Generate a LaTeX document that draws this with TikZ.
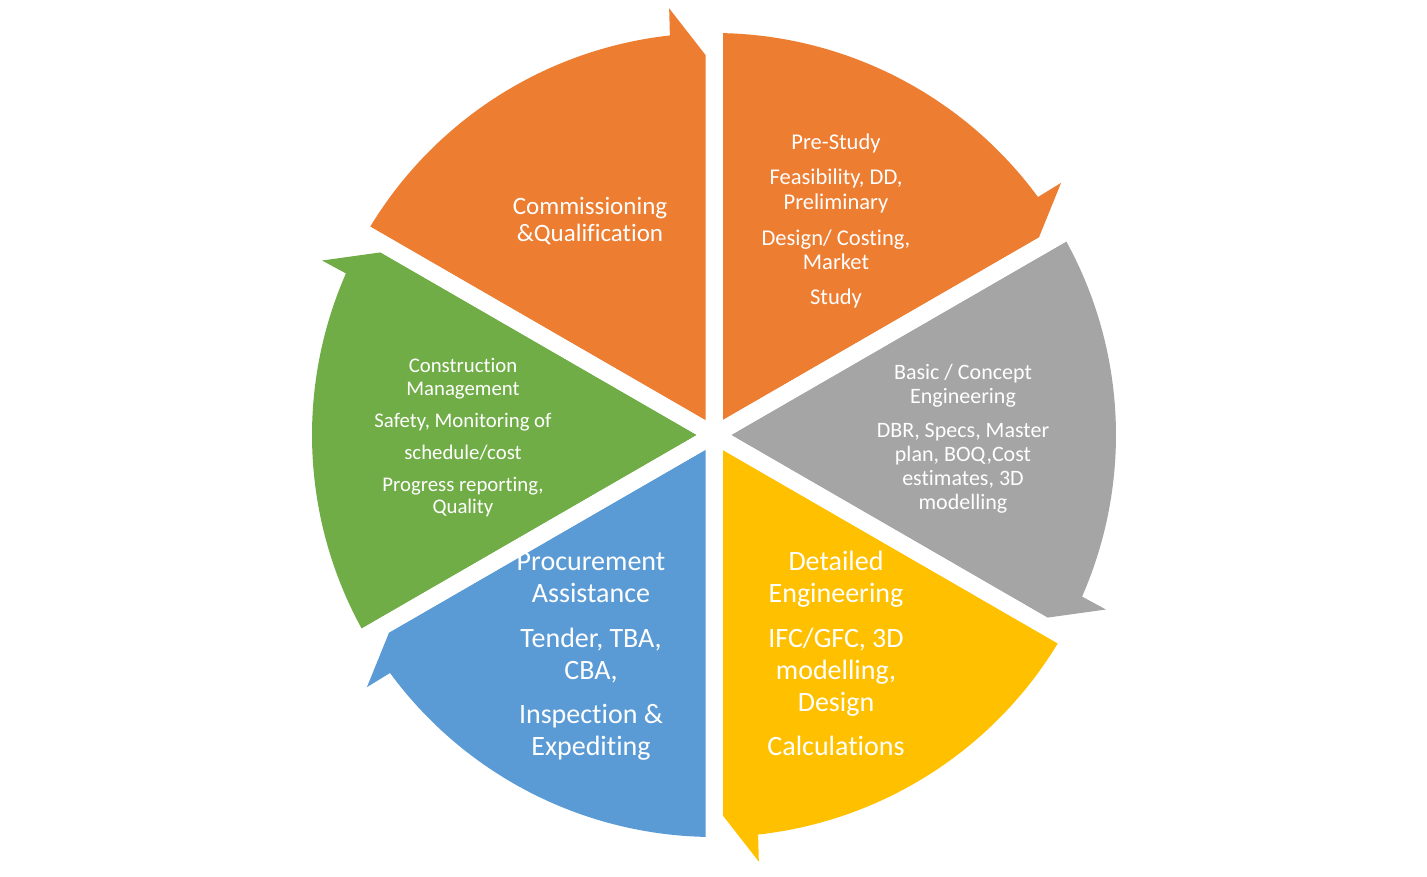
\documentclass[tikz,border=0pt]{standalone}
\usepackage{fontspec}
\setmainfont{Carlito}[Ligatures=NoCommon]

\definecolor{segorange}{HTML}{ED7D31}
\definecolor{seggray}{HTML}{A5A5A5}
\definecolor{segyellow}{HTML}{FFC000}
\definecolor{segblue}{HTML}{5B9BD5}
\definecolor{seggreen}{HTML}{70AD47}

\tikzset{
    seg/.style={fill=#1},
    gap/.style={fill=white},
    lbl/.style={text=white, anchor=base, inner sep=0pt, font=\fontsize{#1}{#1}\selectfont}
}

% one 60 degree piece of the cycle, arrow barb at its clockwise end
\newcommand{\cycpiece}[2]{
    \fill[seg=#2, rotate=#1] (30:17) -- (58.79:402)
        arc[start angle=58.79, end angle=6.3, radius=301.5pt]
        -- (6:429) -- (380,8.5) -- cycle;
}

\begin{document}
\begin{tikzpicture}[x=0.75pt, y=0.75pt]

\useasboundingbox (-714,-441) rectangle (713,435);

\cycpiece{30}{segorange}
\cycpiece{-30}{seggray}
\cycpiece{-90}{segyellow}
\cycpiece{-150}{segblue}
\cycpiece{150}{seggreen}
\cycpiece{90}{segorange}

% pre-study
\node[lbl=16.9] (ps1) at (122,286) {Pre-Study};
\node[lbl=16.9] (ps2) at (122,251) {Feasibility, DD,};
\node[lbl=16.9] (ps3) at (122,226) {Preliminary};
\node[lbl=16.9] (ps4) at (122,190) {Design/ Costing,};
\node[lbl=16.9] (ps5) at (122,166) {Market};
\node[lbl=16.9] (ps6) at (122,131) {Study};

% basic engineering
\node[lbl=16.5] (be1) at (249,56) {Basic / Concept};
\node[lbl=16.5] (be2) at (249,32) {Engineering};
\node[lbl=16.5] (be3) at (249,-2) {DBR, Specs, Master};
\node[lbl=16.5] (be4) at (249,-26) {plan, BOQ,Cost};
\node[lbl=16.5] (be5) at (249,-50) {estimates, 3D};
\node[lbl=16.5] (be6) at (249,-74) {modelling};

% detailed engineering
\node[lbl=21] (de1) at (122,-135) {Detailed};
\node[lbl=21] (de2) at (122,-167) {Engineering};
\node[lbl=21] (de3) at (122,-212) {IFC/GFC, 3D};
\node[lbl=21] (de4) at (122,-244) {modelling,};
\node[lbl=21] (de5) at (122,-276) {Design};
\node[lbl=21] (de6) at (122,-320) {Calculations};

% procurement
\node[lbl=21] (pa1) at (-123,-135) {Procurement};
\node[lbl=21] (pa2) at (-123,-167) {Assistance};
\node[lbl=21] (pa3) at (-123,-212) {Tender, TBA,};
\node[lbl=21] (pa4) at (-123,-244) {CBA,};
\node[lbl=21] (pa5) at (-123,-288) {Inspection \&};
\node[lbl=21] (pa6) at (-123,-320) {Expediting};

% construction
\node[lbl=15.6] (cm1) at (-251,63) {Construction};
\node[lbl=15.6] (cm2) at (-251,40) {Management};
\node[lbl=15.6] (cm3) at (-251,8) {Safety, Monitoring of};
\node[lbl=15.6] (cm4) at (-251,-24) {schedule/cost};
\node[lbl=15.6] (cm5) at (-251,-56) {Progress reporting,};
\node[lbl=15.6] (cm6) at (-251,-78) {Quality};

% commissioning
\node[lbl=18.75] (cq1) at (-124,220.5) {Commissioning};
\node[lbl=18.75] (cq2) at (-124,193.5) {\&Qualification};

% white gaps over the text
\foreach \a in {90,30,-30}
{
    \fill[gap, rotate=\a] (-440,-8.5) -- (440,-8.5) -- (440,8.5) -- (-440,8.5) -- cycle;
}

\end{tikzpicture}
\end{document}
